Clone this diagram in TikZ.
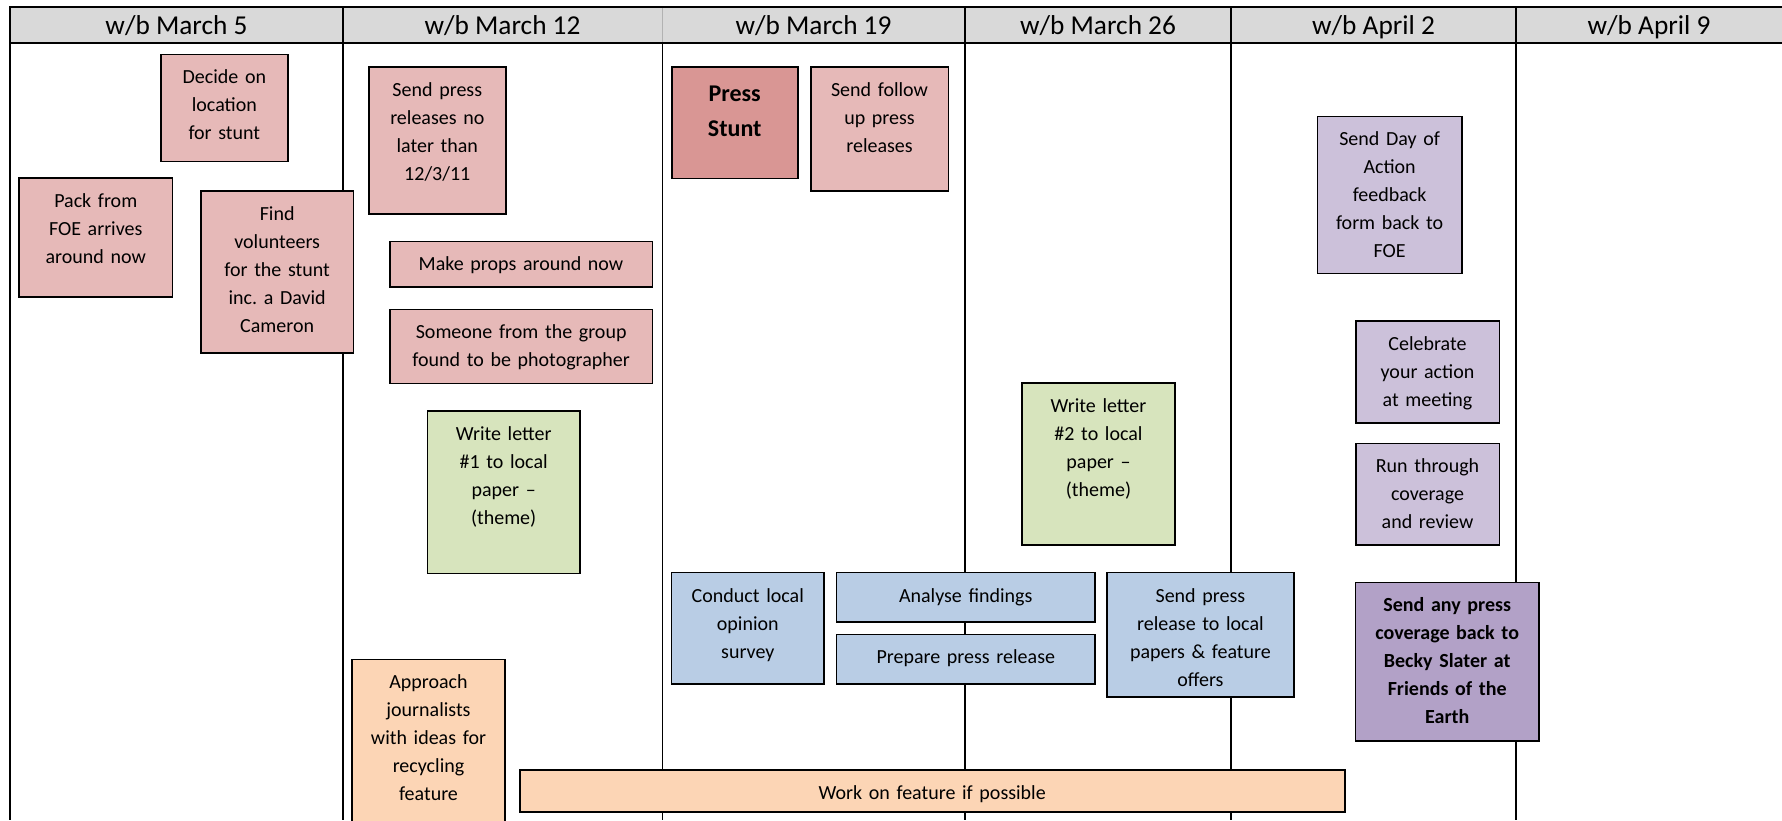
\documentclass[tikz,border=0pt]{standalone}
\usepackage{fontspec}
\setmainfont{Carlito}
\frenchspacing
\definecolor{pinkf}{HTML}{E6B9B8}
\definecolor{stuntf}{HTML}{D99694}
\definecolor{lavf}{HTML}{CCC1DA}
\definecolor{purpf}{HTML}{B2A1C7}
\definecolor{greenf}{HTML}{D7E4BD}
\definecolor{bluef}{HTML}{B9CDE5}
\definecolor{orangef}{HTML}{FCD5B5}
\definecolor{headf}{HTML}{D9D9D9}
\tikzset{
  task/.style={draw=black, line width=1.6pt, anchor=north west, inner sep=0pt, outer sep=0pt},
  lbl/.style={anchor=north, inner sep=0pt, outer sep=0pt, align=center, font=\fontsize{20}{28}\selectfont\frenchspacing},
  boldlbl/.style={font=\fontsize{20}{28}\selectfont\bfseries\frenchspacing},
  stuntlbl/.style={font=\fontsize{24}{35}\selectfont\bfseries, yshift=-4.8pt},
  head/.style={anchor=base, inner sep=0pt, font=\fontsize{27.3}{32}\selectfont},
  thick rule/.style={line width=2pt, black},
  thin rule/.style={line width=1pt, black}
}
\newcommand{\taskbox}[8]{%
  \node[task, fill=#6, minimum width=#4pt, minimum height=#5pt] (#1) at (#2,#3) {};
  \node[lbl, text width=#4pt, #7] (#1-t) at ([yshift=-8.5pt]#1.north) {\rule{0pt}{21pt}#8};
}
\begin{document}
\begin{tikzpicture}[x=1pt,y=-1pt]
\fill[white] (0,0) rectangle (1782,820);
\useasboundingbox (0,0) rectangle (1782,820);
% header band
\fill[headf] (10,7.3) rectangle (1782,42.7);
\node[head] (h1) at (176.5,34.3) {w/b March 5};
\node[head] (h2) at (502.5,34.3) {w/b March 12};
\node[head] (h3) at (813.5,34.3) {w/b March 19};
\node[head] (h4) at (1098,34.3) {w/b March 26};
\node[head] (h5) at (1373.5,34.3) {w/b April 2};
\node[head] (h6) at (1649,34.3) {w/b April 9};
% grid lines
\draw[line width=1pt, black!30] (662,7.3) -- (662,42.7);
\draw[thin rule] (662,42.7) -- (662,820);
\draw[thick rule] (10,7.3) -- (1782,7.3);
\draw[thick rule] (10,42.7) -- (1782,42.7);
\draw[thick rule] (10,6.3) -- (10,820);
\draw[thick rule] (343,7.3) -- (343,820);
\draw[thick rule] (965,7.3) -- (965,820);
\draw[thick rule] (1231,7.3) -- (1231,820);
\draw[thick rule] (1516,7.3) -- (1516,820);
% tasks
\taskbox{decide}{160.7}{54.3}{127.3}{107}{pinkf}{}{Decide on\\location\\for stunt}
\taskbox{pack}{19.2}{178}{153.1}{119}{pinkf}{}{Pack from\\FOE arrives\\around now}
\taskbox{find}{201}{191}{152.3}{161.7}{pinkf}{}{Find\\volunteers\\for the stunt\\inc. a David\\Cameron}
\taskbox{sendpr}{368.8}{66.7}{137}{147}{pinkf}{}{Send press\\releases no\\later than\\12/3/11}
\taskbox{props}{389.7}{241.3}{262.6}{45.4}{pinkf}{}{Make props around now}
\taskbox{someone}{390}{309.3}{262.3}{74}{pinkf}{}{Someone from the group\\found to be photographer}
\taskbox{letterone}{427.3}{411}{152.7}{162.3}{greenf}{}{Write letter\\\#1 to local\\paper \textendash\\(theme)}
\taskbox{stunt}{671.7}{66.7}{126}{111.6}{stuntf}{stuntlbl}{Press\\Stunt}
\taskbox{follow}{810.7}{66.7}{137.6}{124.3}{pinkf}{}{Send follow\\up press\\releases}
\taskbox{dayaction}{1317.5}{116.3}{144.2}{157}{lavf}{}{Send Day of\\Action\\feedback\\form back to\\FOE}
\taskbox{celebrate}{1355.7}{320.7}{143.6}{102}{lavf}{}{Celebrate\\your action\\at meeting}
\taskbox{runthrough}{1355.7}{443.3}{143.6}{101.7}{lavf}{}{Run through\\coverage\\and review}
\taskbox{lettertwo}{1022}{382.7}{153}{162.3}{greenf}{}{Write letter\\\#2 to local\\paper \textendash\\(theme)}
\taskbox{conduct}{671.6}{572.5}{152.4}{111.5}{bluef}{}{Conduct local\\opinion\\survey}
\taskbox{analyse}{836.5}{572.5}{258.5}{49.5}{bluef}{}{Analyse findings}
\taskbox{prepare}{836.5}{634.3}{258.5}{49.7}{bluef}{}{Prepare press release}
\taskbox{sendlocal}{1106.8}{572.5}{187.2}{124.5}{bluef}{}{Send press\\release to local\\papers \& feature\\offers}
\taskbox{sendany}{1355.6}{582.3}{183.2}{158.4}{purpf}{boldlbl}{Send any press\\coverage back to\\Becky Slater at\\Friends of the\\Earth}
\taskbox{approach}{352.2}{659.3}{152.6}{180}{orangef}{}{Approach\\journalists\\with ideas for\\recycling\\feature}
\taskbox{work}{519.7}{770}{825.1}{41.7}{orangef}{}{Work on feature if possible}
\end{tikzpicture}
\end{document}
